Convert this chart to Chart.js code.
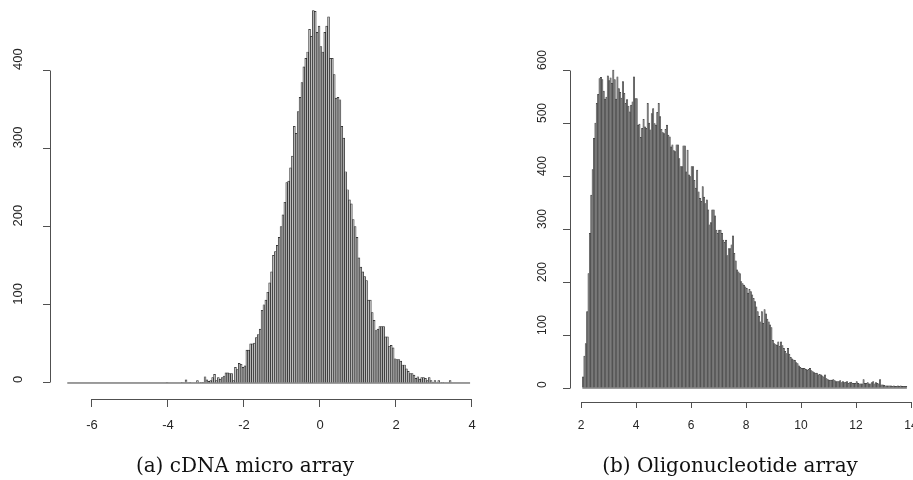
<!DOCTYPE html>
<html>
<head>
<meta charset="utf-8">
<script src="https://cdn.jsdelivr.net/npm/chart.js@4/dist/chart.umd.min.js"></script>
<style>
html,body{margin:0;padding:0;background:#ffffff;}
body{width:913px;height:480px;position:relative;overflow:hidden;}
#c1{position:absolute;left:0;top:0;width:500px;height:480px;}
#c2{position:absolute;left:500px;top:0;width:413px;height:480px;}
.cap{position:absolute;top:455px;font-family:"DejaVu Serif",serif;font-size:20px;line-height:20px;color:#111;white-space:nowrap;transform:translateX(-50%);}
</style>
</head>
<body>
<canvas id="c1" width="500" height="480"></canvas>
<canvas id="c2" width="413" height="480"></canvas>
<div class="cap" id="cap1" style="left:245px"></div>
<div class="cap" id="cap2" style="left:730px"></div>
<script>
// ---------- (a) cDNA micro array ----------
const cdnaBinStart = -6.65;
const cdnaBinWidth = 0.05;
const cdnaCounts = [
  0,0,0,0,0,0,0,0,0,0, 0,0,0,0,0,0,0,0,0,0, 0,0,0,0,0,0,0,0,0,0,
  0,0,0,0,0,0,0,0,0,0, 0,0,0,0,0,0,0,0,0,0, 0,
  0,1,0,0,0,0,0,0,0,1, 0,4,0,1,0,0,0,3,0,1, 1,8,4,2,3,7,11,3,7,5, 7,9,13,13,12,12,
  3,20,17,25,24,20,22,42,42,50,50,51,58,62,69,93,
  100,106,116,128,142,163,168,176,186,200,
  215,231,256,258,275,290,328,319,347,365,
  384,404,415,423,452,443,476,475,448,456,
  430,423,448,456,468,415,415,394,364,365,
  362,328,313,270,247,234,229,209,200,186,
  160,148,142,136,131,106,106,90,80,67, 69,72,72,72,59,59,47,48,45,31,
  30,30,28,23,23,18,15,12,12,10, 6,8,5,7,7,6,3,7,3,1,
  3,0,3,0,1,0,0,0,3,0, 0,0,0,0,0,0,0,0,0
];
const cdnaXTicks = [-6, -4, -2, 0, 2, 4];
const cdnaYTicks = [0, 100, 200, 300, 400];
const cdnaCaption = '(a) cDNA micro array';

// ---------- (b) Oligonucleotide array ----------
const oligoBinStart = 2.05;
const oligoBinWidth = 0.05;
const oligoCounts = [
  21,60,84,144,216,292,364,412,471,500,
  537,554,584,586,582,560,545,549,589,580,
  585,575,600,582,545,587,565,558,547,578,
  556,537,544,532,521,534,540,587,546,546,
  496,498,473,490,507,493,490,537,500,487,
  518,527,499,496,520,537,512,488,482,480,
  488,496,477,474,455,459,448,446,459,459,
  433,418,418,457,457,408,449,402,399,418,
  418,392,377,411,370,358,352,380,360,348,
  355,336,308,312,336,336,325,298,292,298,
  298,292,279,275,279,250,263,263,270,287,
  254,240,223,219,216,201,197,194,191,188,
  179,186,182,176,169,163,153,144,135,125,
  144,122,148,140,130,125,119,114,90,84,
  82,81,87,79,87,80,75,69,65,75,
  64,58,55,53,52,48,46,42,39,37,
  37,37,35,34,35,37,33,31,29,28,
  28,25,26,25,23,21,25,18,16,15,
  15,15,16,14,12,12,12,14,10,12,
  10,11,12,9,10,11,9,9,9,12,
  9,8,8,8,16,9,9,10,8,8,
  10,12,8,10,9,8,16,6,6,5,
  4,4,4,4,4,3,4,3,3,4,
  3,4,3,3,3,3
];
const oligoXTicks = [2, 4, 6, 8, 10, 12, 14];
const oligoYTicks = [0, 100, 200, 300, 400, 500, 600];
const oligoCaption = '(b) Oligonucleotide array';

document.getElementById('cap1').textContent = cdnaCaption;
document.getElementById('cap2').textContent = oligoCaption;

const AXIS = '#505050';
const TEXT = '#262626';

// R-style axes: axis lines span first..last tick; y labels rotated, starting at the tick
const rAxesPlugin = {
  id: 'rAxes',
  afterDatasetsDraw(chart, args, opts) {
    const {ctx, chartArea, scales} = chart;
    const xs = scales.x, ys = scales.y;
    const xt = xs.ticks, yt = ys.ticks;
    const al = v => Math.round(v - 0.5) + 0.5;
    ctx.save();
    ctx.strokeStyle = AXIS;
    ctx.lineWidth = 1;
    ctx.beginPath();
    const ax = al(chartArea.left);
    ctx.moveTo(ax, al(ys.getPixelForValue(yt[0].value)));
    ctx.lineTo(ax, al(ys.getPixelForValue(yt[yt.length - 1].value)));
    const ay = al(chartArea.bottom);
    ctx.moveTo(al(xs.getPixelForValue(xt[0].value)), ay);
    ctx.lineTo(al(xs.getPixelForValue(xt[xt.length - 1].value)), ay);
    ctx.stroke();
    // rotated y tick labels
    ctx.fillStyle = TEXT;
    ctx.font = opts.fontSize + 'px "Liberation Sans", Arial, sans-serif';
    ctx.textAlign = 'left';
    ctx.textBaseline = 'middle';
    yt.forEach(t => {
      const py = ys.getPixelForValue(t.value);
      ctx.save();
      ctx.translate(opts.labelX, py);
      ctx.rotate(-Math.PI / 2);
      ctx.fillText(String(t.value), 0, 0);
      ctx.restore();
    });
    ctx.restore();
  }
};

function makeHist(id, o) {
  const bars = o.counts.map((c, i) => ({x: o.start + (i + 0.5) * o.width, y: c}));
  const base = [{x: o.start, y: 0}, {x: o.start + o.counts.length * o.width, y: 0}];
  const font = {family: '"Liberation Sans", Arial, sans-serif', size: o.fs};
  return new Chart(document.getElementById(id), {
    type: 'bar',
    data: {
      datasets: [
        {
          type: 'bar', data: bars,
          backgroundColor: o.fill, borderColor: o.stroke, borderWidth: o.bw,
          borderSkipped: 'start', barPercentage: 1, categoryPercentage: 1
        },
        {
          type: 'line', data: base, borderColor: '#3a3a3a', borderWidth: 1,
          pointRadius: 0, fill: false
        }
      ]
    },
    options: {
      responsive: false, maintainAspectRatio: false, animation: false, events: [],
      layout: {padding: {left: 0, right: 0, top: 0, bottom: 0}},
      plugins: {
        legend: {display: false}, tooltip: {enabled: false}, title: {display: false},
        rAxes: {labelX: o.labelX, fontSize: o.fs}
      },
      scales: {
        x: {
          type: 'linear', min: o.xMin, max: o.xMax, offset: false,
          grid: {drawOnChartArea: false, drawTicks: true, tickLength: o.xTickLen, color: AXIS, offset: false},
          border: {display: false},
          ticks: {autoSkip: false, minRotation: 0, maxRotation: 0, padding: o.xPad, color: TEXT, font,
                  callback: v => String(v)},
          afterBuildTicks: s => { s.ticks = o.xTicks.map(v => ({value: v})); },
          afterFit: s => { s.height = o.xAxisH; s.paddingLeft = 0; s.paddingRight = 0; }
        },
        y: {
          type: 'linear', min: o.yMin, max: o.yMax,
          grid: {drawOnChartArea: false, drawTicks: true, tickLength: o.yTickLen, color: AXIS},
          border: {display: false},
          ticks: {display: false},
          afterBuildTicks: s => { s.ticks = o.yTicks.map(v => ({value: v})); },
          afterFit: s => { s.width = o.yAxisW; s.paddingTop = 0; s.paddingBottom = 0; }
        }
      }
    },
    plugins: [rAxesPlugin]
  });
}

makeHist('c1', {
  counts: cdnaCounts, start: cdnaBinStart, width: cdnaBinWidth,
  xTicks: cdnaXTicks, yTicks: cdnaYTicks,
  xMin: -7.105, xMax: 4.737, yMin: -20.45, yMax: 489.46,
  yAxisW: 50, labelX: 18, xAxisH: 81, xTickLen: 8, yTickLen: 7, xPad: 11, fs: 13,
  fill: '#bcbcbc', stroke: '#222222', bw: 0.7
});

makeHist('c2', {
  counts: oligoCounts, start: oligoBinStart, width: oligoBinWidth,
  xTicks: oligoXTicks, yTicks: oligoYTicks,
  xMin: 1.6, xMax: 14.0727, yMin: -26.415, yMax: 732.08,
  yAxisW: 70, labelX: 43, xAxisH: 78, xTickLen: 6, yTickLen: 7, xPad: 10, fs: 12,
  fill: '#7e7e7e', stroke: '#333333', bw: 0.5
});
</script>
</body>
</html>
